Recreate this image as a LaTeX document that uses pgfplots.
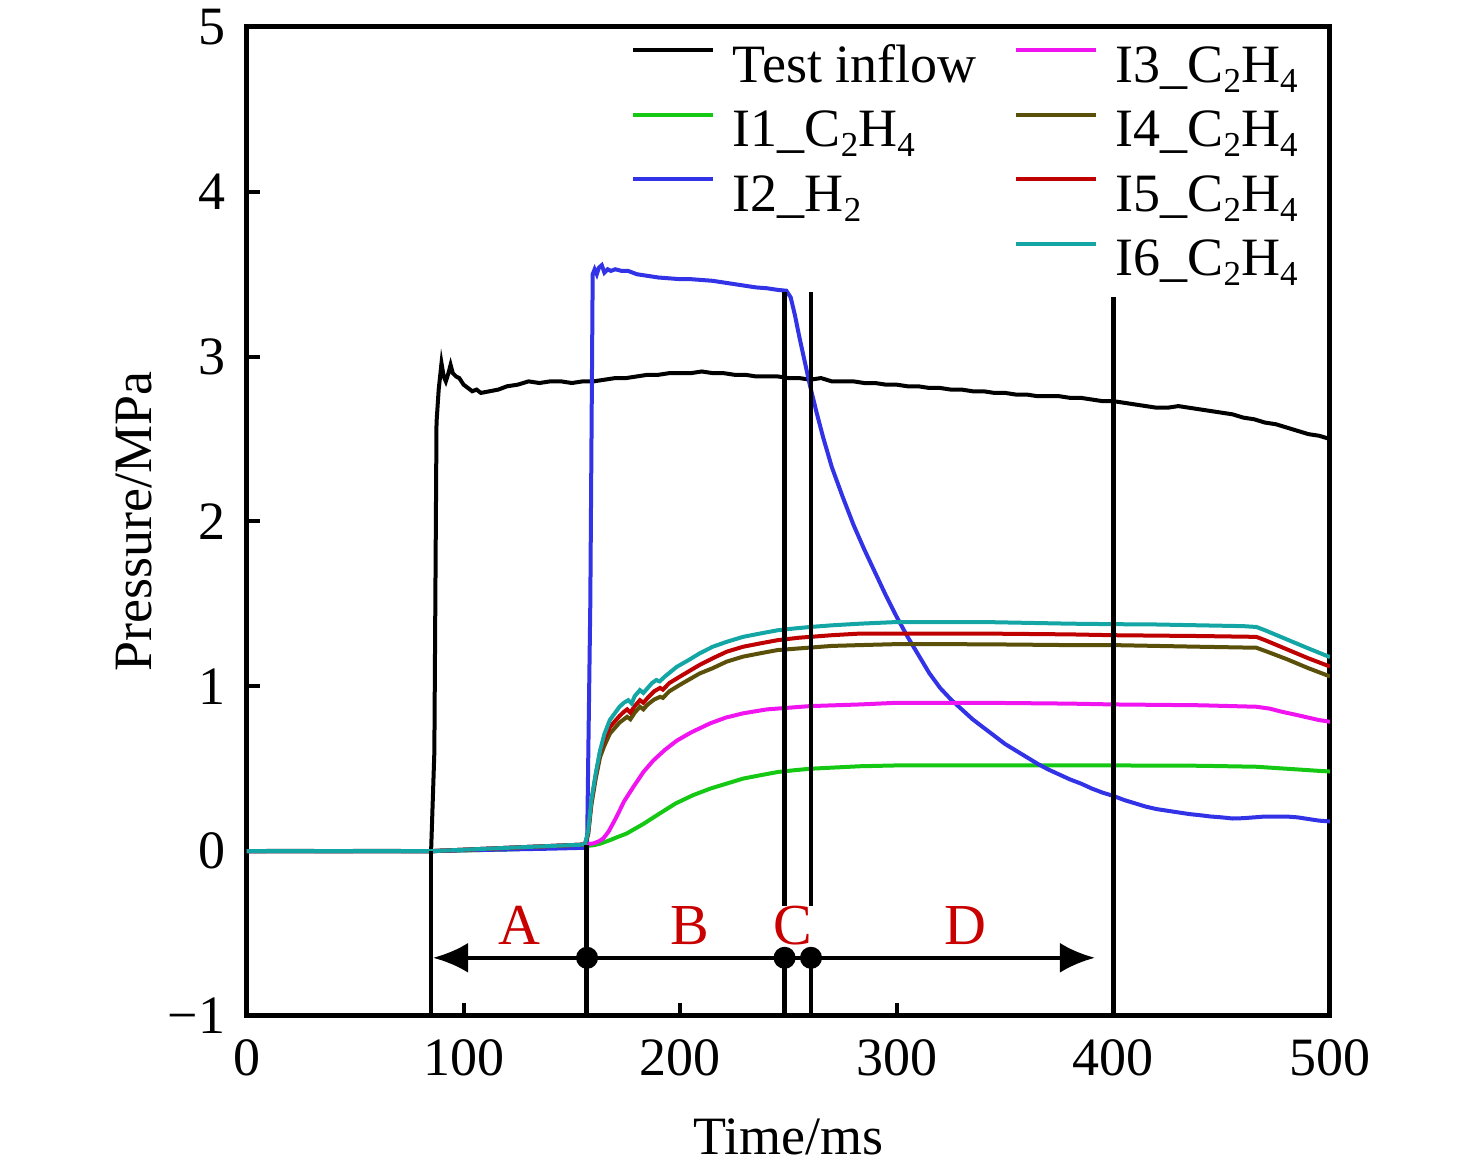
\documentclass[border=0pt]{standalone}
\usepackage{fontspec}
\setmainfont{Liberation Serif}
\usepackage{pgfplots}
\pgfplotsset{compat=1.18}
\usetikzlibrary{arrows.meta}
\definecolor{cBlack}{RGB}{0,0,0}
\definecolor{cGreen}{RGB}{20,200,20}
\definecolor{cBlue}{RGB}{50,50,230}
\definecolor{cMag}{RGB}{240,20,240}
\definecolor{cOlive}{RGB}{90,80,10}
\definecolor{cRed}{RGB}{190,0,0}
\definecolor{cTeal}{RGB}{20,165,165}
\definecolor{cLab}{RGB}{200,0,0}
\newcommand\sub[1]{\raisebox{-2pt}{\fontsize{7}{8}\selectfont #1}}
\begin{document}
\begin{tikzpicture}[font=\fontsize{10.8}{13}\selectfont]
\begin{axis}[name=ax, at={(0,0)}, anchor=south west,
  scale only axis, width=216.6pt, height=197.8pt,
  xmin=0, xmax=500, ymin=-1, ymax=5,
  xtick={0,100,200,300,400,500}, ytick={-1,0,1,2,3,4,5},
  xticklabels={0,100,200,300,400,500},
  yticklabels={−1,0,1,2,3,4,5},
  tick align=inside, tick pos=left,
  major tick length=2.6pt,
  every tick/.style={line width=0.8pt, black},
  axis line style={line width=1pt},
  xticklabel style={yshift=-1.2pt},
  yticklabel style={xshift=-0.8pt},
  xlabel={Time/ms}, ylabel={Pressure/MPa},
  xlabel style={at={(axis description cs:0.5,-0.1405)}, anchor=base},
  ylabel style={at={(axis description cs:-0.0886,0.5)}, anchor=base},
  legend columns=2,
  legend cell align=left,
  legend image code/.code={\draw[#1, line width=0.8pt] (0pt,4pt) -- (16pt,4pt);},
  legend style={at={(axis description cs:0.3535,0.990)}, anchor=north west,
    draw=none, fill=none, inner sep=0pt, row sep=0pt,
    nodes={inner xsep=3.6pt, inner ysep=0.9pt, text height=8pt, text depth=3.1pt},
    /tikz/every even column/.append style={column sep=3.8pt}},
]
% Test inflow
\addplot[cBlack, line width=0.8pt, forget plot] coordinates {
(0,0)(20,0.002)(40,0)(60,0.002)(80,0)(85,0)(86.5,0.6)(87.5,2.6)(88.5,2.80)(89.8,2.96)(90.8,2.88)(91.8,2.85)(93,2.90)(94,2.95)(95,2.90)(96.5,2.88)(98,2.87)(100,2.83)(102,2.81)(104,2.79)(106,2.80)(108,2.78)(112,2.79)(116,2.80)(120,2.82)(125,2.83)(130,2.85)(135,2.84)(140,2.85)(145,2.85)(150,2.84)(155,2.85)(160,2.85)(165,2.86)(170,2.87)(175,2.87)(180,2.88)(185,2.89)(190,2.89)(195,2.90)(200,2.90)(205,2.90)(210,2.91)(215,2.90)(220,2.90)(225,2.89)(230,2.89)(235,2.88)(240,2.88)(245,2.88)(250,2.87)(255,2.87)(260,2.86)(265,2.87)(270,2.85)(275,2.85)(280,2.85)(285,2.84)(290,2.84)(295,2.83)(300,2.83)(305,2.82)(310,2.82)(315,2.81)(320,2.81)(325,2.80)(330,2.80)(335,2.79)(340,2.79)(345,2.78)(350,2.78)(355,2.77)(360,2.77)(365,2.76)(370,2.76)(375,2.76)(380,2.75)(385,2.75)(390,2.74)(395,2.73)(400,2.73)(405,2.72)(410,2.71)(415,2.70)(420,2.69)(425,2.69)(430,2.70)(435,2.69)(440,2.68)(445,2.67)(450,2.66)(455,2.65)(460,2.63)(465,2.62)(470,2.60)(475,2.59)(480,2.57)(485,2.55)(490,2.53)(495,2.52)(500,2.50)};
% I1 C2H4
\addplot[cGreen, line width=0.8pt, forget plot] coordinates {
(0,0)(85,0)(120,0.01)(156,0.03)(160,0.036)(163,0.045)(167.6,0.067)(171,0.085)(175.3,0.107)(183,0.165)(190.7,0.23)(198,0.29)(206,0.34)(214,0.38)(221.5,0.41)(229,0.44)(236.8,0.46)(245,0.48)(252,0.49)(260,0.50)(283,0.515)(300,0.52)(340,0.52)(380,0.52)(400,0.52)(440,0.518)(466,0.512)(480,0.50)(495,0.487)(500,0.483)};
% I2 H2
\addplot[cBlue, line width=0.8pt, forget plot] coordinates {
(0,0)(50,0)(85,0)(100,0.005)(120,0.01)(140,0.015)(155,0.02)(157,0.02)(158.5,1.5)(159.6,3.50)(160.5,3.53)(161.5,3.50)(162.5,3.54)(163.8,3.555)(165,3.51)(166.5,3.53)(168,3.52)(170,3.53)(173,3.52)(176,3.52)(180,3.50)(185,3.49)(190,3.48)(195,3.475)(200,3.47)(205,3.47)(210,3.465)(215,3.46)(220,3.45)(225,3.44)(230,3.43)(235,3.42)(240,3.415)(245,3.405)(249,3.40)(251,3.36)(253,3.25)(255,3.12)(257,3.00)(260,2.82)(263,2.66)(266,2.51)(270,2.33)(275,2.15)(280,1.98)(285,1.83)(290,1.69)(295,1.55)(300,1.42)(305,1.30)(310,1.19)(315,1.08)(320,0.99)(325,0.92)(330,0.86)(335,0.80)(340,0.75)(345,0.70)(350,0.65)(355,0.61)(360,0.57)(365,0.53)(370,0.495)(375,0.465)(380,0.435)(385,0.41)(390,0.38)(395,0.355)(400,0.335)(405,0.31)(410,0.29)(415,0.27)(420,0.255)(425,0.245)(430,0.235)(435,0.225)(440,0.218)(445,0.21)(450,0.205)(455,0.198)(460,0.20)(465,0.205)(470,0.21)(475,0.21)(480,0.21)(485,0.205)(490,0.195)(495,0.185)(500,0.18)};
% I3 C2H4
\addplot[cMag, line width=0.8pt, forget plot] coordinates {
(0,0)(85,0)(120,0.02)(156,0.04)(160,0.047)(162.5,0.06)(164.5,0.077)(167,0.12)(170.7,0.21)(174,0.30)(178.4,0.39)(183,0.48)(187.6,0.55)(193,0.615)(198.4,0.67)(205,0.72)(213.8,0.775)(221,0.81)(229,0.836)(240,0.86)(252,0.872)(260,0.88)(283,0.89)(300,0.90)(340,0.90)(380,0.895)(400,0.89)(440,0.885)(466,0.876)(472,0.865)(478,0.845)(485,0.825)(495,0.795)(500,0.785)};
% I4 C2H4
\addplot[cOlive, line width=0.8pt, forget plot] coordinates {
(0,0)(85,0)(120,0.02)(156,0.04)(157.5,0.10)(159,0.28)(161,0.44)(163,0.57)(165,0.64)(167.6,0.714)(170,0.75)(172,0.78)(174,0.80)(175.5,0.815)(177,0.80)(179,0.84)(181.4,0.876)(183,0.86)(185,0.89)(188,0.92)(190.7,0.936)(192,0.93)(195,0.97)(200,1.01)(209,1.078)(215,1.11)(221.5,1.15)(229,1.18)(236.8,1.20)(245,1.22)(255,1.23)(270,1.245)(283,1.25)(300,1.256)(340,1.255)(380,1.25)(400,1.25)(440,1.24)(466,1.234)(470,1.215)(480,1.165)(490,1.11)(500,1.06)};
% I5 C2H4
\addplot[cRed, line width=0.8pt, forget plot] coordinates {
(0,0)(85,0)(120,0.02)(156,0.04)(157.5,0.11)(159,0.30)(161,0.46)(163,0.60)(165,0.68)(167.6,0.754)(170,0.79)(172,0.82)(174,0.845)(175.5,0.86)(177,0.84)(179,0.88)(181.4,0.916)(183,0.90)(185,0.93)(188,0.97)(190.7,0.99)(192,0.98)(195,1.02)(200,1.06)(209,1.13)(215,1.17)(221.5,1.21)(229,1.24)(236.8,1.26)(245,1.28)(255,1.295)(270,1.31)(283,1.32)(300,1.32)(340,1.32)(380,1.315)(400,1.31)(440,1.305)(466,1.30)(470,1.28)(480,1.225)(490,1.17)(500,1.12)};
% I6 C2H4
\addplot[cTeal, line width=0.8pt, forget plot] coordinates {
(0,0)(85,0)(120,0.02)(156,0.04)(157.5,0.12)(159,0.31)(161,0.47)(163,0.61)(165,0.71)(167.5,0.795)(170,0.84)(172,0.876)(174,0.90)(176,0.916)(177.6,0.896)(179,0.94)(181.4,0.977)(183,0.96)(185,0.99)(187,1.02)(189,1.038)(190.5,1.03)(193,1.06)(198.4,1.118)(204,1.16)(209,1.20)(215,1.24)(221.5,1.27)(229,1.30)(236.8,1.32)(245,1.34)(252,1.35)(260,1.36)(270,1.37)(283,1.38)(300,1.39)(320,1.39)(340,1.39)(360,1.385)(380,1.38)(400,1.377)(420,1.375)(440,1.37)(460,1.365)(466,1.36)(470,1.34)(480,1.285)(490,1.23)(500,1.177)};
% phase boundaries
\addplot[black, line width=0.9pt, forget plot] coordinates {(85,-1)(85,0)};
\addplot[black, line width=0.9pt, forget plot] coordinates {(156.8,-1)(156.8,0.04)};
\addplot[black, line width=0.9pt, forget plot] coordinates {(248.1,-1)(248.1,-0.58)};
\addplot[black, line width=0.9pt, forget plot] coordinates {(248.1,-0.33)(248.1,3.39)};
\addplot[black, line width=0.9pt, forget plot] coordinates {(260.4,-1)(260.4,-0.58)};
\addplot[black, line width=0.9pt, forget plot] coordinates {(260.4,-0.33)(260.4,3.39)};
\addplot[black, line width=0.9pt, forget plot] coordinates {(400,-1)(400,3.36)};
\addplot[black, line width=0.9pt, forget plot, {Latex[length=7pt,width=6pt]}-{Latex[length=7pt,width=6pt]}] coordinates {(85.9,-0.647)(391.5,-0.647)};
\addplot[black, only marks, mark=*, mark size=2pt, forget plot] coordinates {(157,-0.647)(248.2,-0.647)(260.4,-0.647)};
\node[cLab, anchor=base, font=\fontsize{11.6}{13}\selectfont] at (axis cs:126,-0.565) {A};
\node[cLab, anchor=base, font=\fontsize{11.6}{13}\selectfont] at (axis cs:204.5,-0.565) {B};
\node[cLab, anchor=base, font=\fontsize{11.6}{13}\selectfont] at (axis cs:252.2,-0.565) {C};
\node[cLab, anchor=base, font=\fontsize{11.6}{13}\selectfont] at (axis cs:331.5,-0.565) {D};
% legend (row-wise)
\addlegendimage{cBlack}\addlegendentry{Test inflow}
\addlegendimage{cMag}\addlegendentry{I3\_C\sub{2}H\sub{4}}
\addlegendimage{cGreen}\addlegendentry{I1\_C\sub{2}H\sub{4}}
\addlegendimage{cOlive}\addlegendentry{I4\_C\sub{2}H\sub{4}}
\addlegendimage{cBlue}\addlegendentry{I2\_H\sub{2}}
\addlegendimage{cRed}\addlegendentry{I5\_C\sub{2}H\sub{4}}
\addlegendimage{empty legend}\addlegendentry{}
\addlegendimage{cTeal}\addlegendentry{I6\_C\sub{2}H\sub{4}}
\end{axis}
\pgfresetboundingbox
\path[use as bounding box] ([shift={(-49.4pt,-31.6pt)}]ax.south west) rectangle ([shift={(29.2pt,5.4pt)}]ax.north east);
\end{tikzpicture}
\end{document}
